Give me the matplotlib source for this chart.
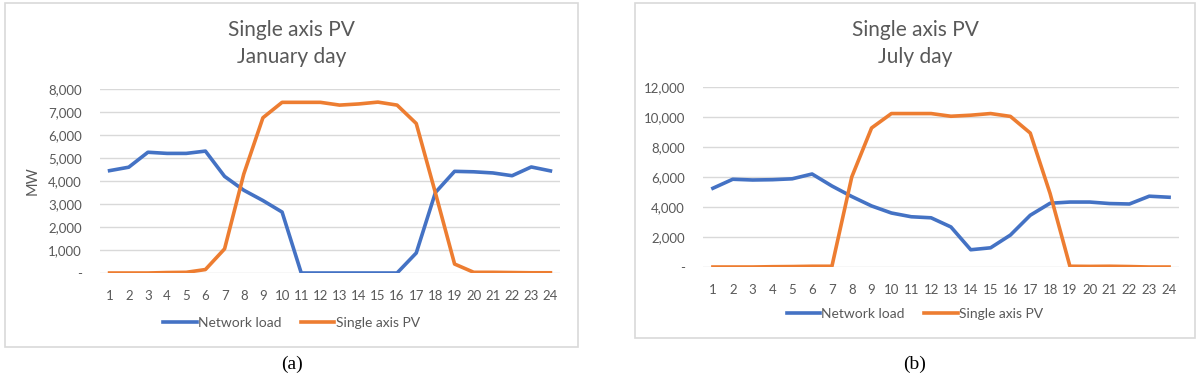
import matplotlib.pyplot as plt
from matplotlib.patches import Rectangle
from matplotlib.ticker import FuncFormatter

hours = list(range(1, 25))

# January day (MW)
jan_load = [4450, 4600, 5250, 5200, 5200, 5300, 4200, 3600, 3150, 2650, 0, 0,
            0, 0, 0, 0, 870, 3500, 4420, 4400, 4350, 4230, 4610, 4440]
jan_pv = [0, 0, 0, 20, 30, 150, 1050, 4300, 6750, 7420, 7420, 7420,
          7300, 7350, 7430, 7300, 6500, 3480, 390, 30, 30, 20, 10, 10]

# July day (MW)
jul_load = [5250, 5850, 5800, 5820, 5880, 6200, 5400, 4700, 4070, 3600, 3350, 3280,
            2670, 1150, 1280, 2130, 3450, 4250, 4330, 4330, 4230, 4200, 4720, 4650]
jul_pv = [0, 0, 0, 20, 30, 50, 50, 6000, 9270, 10230, 10230, 10230,
          10050, 10120, 10230, 10040, 8930, 4900, 50, 40, 50, 30, 0, 0]

BLUE = "#4472C4"
ORANGE = "#ED7D31"
GREY = "#595959"
GRID = "#d9d9d9"
FONT = ["Lato", "DejaVu Sans"]

W, H = 1200, 379
fig = plt.figure(figsize=(12, 3.79), dpi=100)


def fx(px):
    return px / W


def fy(py):
    return 1 - py / H


def acct(v, pos):
    return "-" if v == 0 else f"{int(v):,}"


def panel(box, plot, ymax, ystep, load, pv, title, legend_y, ylabel, caption):
    x0, y0, x1, y1 = box
    fig.patches.append(Rectangle((fx(x0), fy(y1)), fx(x1 - x0), (y1 - y0) / H,
                                 transform=fig.transFigure, fill=False,
                                 edgecolor=GRID, linewidth=1.2))
    px0, py0, px1, py1 = plot
    ax = fig.add_axes([fx(px0), fy(py1), fx(px1 - px0), (py1 - py0) / H])
    ax.plot(hours, load, color=BLUE, lw=2.6, label="Network load")
    ax.plot(hours, pv, color=ORANGE, lw=2.6, label="Single axis PV")
    ax.set_xlim(0.5, 24.5)
    ax.set_ylim(0, ymax)
    ax.set_yticks(range(0, ymax + 1, ystep))
    ax.yaxis.set_major_formatter(FuncFormatter(acct))
    ax.set_xticks(hours)
    ax.grid(axis="y", color=GRID, lw=1)
    ax.set_axisbelow(True)
    for s in ax.spines.values():
        s.set_visible(False)
    ax.tick_params(length=0, colors=GREY, labelsize=9.5)
    ax.tick_params(axis="y", pad=13)
    ax.tick_params(axis="x", pad=12)
    for lab in ax.get_xticklabels() + ax.get_yticklabels():
        lab.set_family(FONT)
    if ylabel:
        ax.set_ylabel(ylabel, color=GREY, fontsize=10.5, family=FONT, labelpad=6)
    cx = (x0 + x1) / 2
    fig.text(fx(cx), fy(30), title[0], ha="center", va="center",
             fontsize=15, color=GREY, family=FONT)
    fig.text(fx(cx), fy(57), title[1], ha="center", va="center",
             fontsize=15, color=GREY, family=FONT)
    leg = fig.legend(handles=ax.get_lines(), loc="center",
                     bbox_to_anchor=(fx(cx), fy(legend_y)), ncol=2, frameon=False,
                     handlelength=2.4, handletextpad=0.1, columnspacing=1.4,
                     prop={"family": FONT, "size": 10})
    for t in leg.get_texts():
        t.set_color(GREY)
    fig.text(fx(cx), fy(364), caption, ha="center", va="center",
             fontsize=14, family="Liberation Serif", color="black")
    return ax


panel((5, 3, 578, 347), (100, 89, 560, 273), 8000, 1000, jan_load, jan_pv,
      ("Single axis PV", "January day"), 323, "MW", "(a)")
panel((635, 3, 1195, 338), (703, 87, 1179, 267), 12000, 2000, jul_load, jul_pv,
      ("Single axis PV", "July day"), 314, None, "(b)")

fig.savefig("out.png", dpi=100)
